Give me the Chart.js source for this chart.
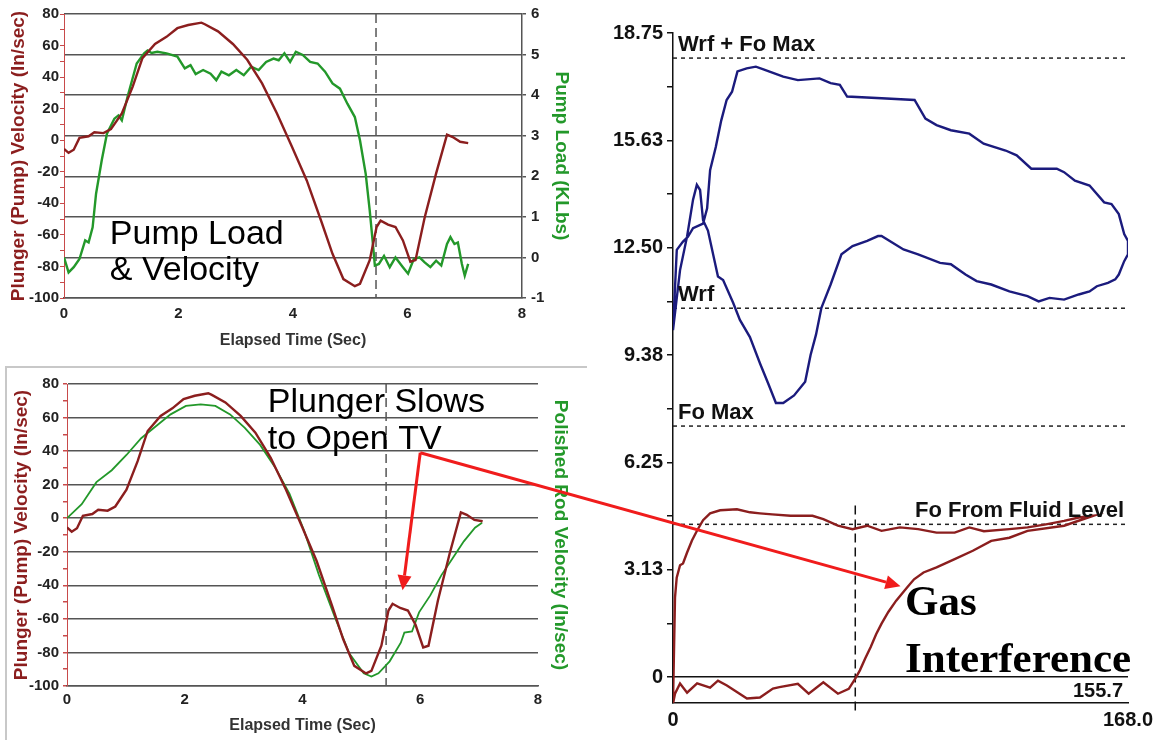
<!DOCTYPE html>
<html>
<head>
<meta charset="utf-8">
<script src="https://cdn.jsdelivr.net/npm/chart.js@4.4.1/dist/chart.umd.min.js"></script>
<style>
  html, body { margin: 0; padding: 0; background: #fff; }
  #page { position: relative; width: 1159px; height: 740px; overflow: hidden; }
  canvas { position: absolute; }
  #frame { position: absolute; left: 5px; top: 366px; width: 580px; height: 380px;
           border-top: 2px solid #c8c8c8; border-left: 2px solid #c8c8c8; }
  #notes { pointer-events: none; }
</style>
</head>
<body>
<div id="page">
  <div id="frame"></div>
  <canvas id="loadChart" width="580" height="355" style="left:0;top:0"></canvas>
  <canvas id="rodChart" width="580" height="380" style="left:0;top:360px"></canvas>
  <canvas id="cardChart" width="569" height="740" style="left:590px;top:0"></canvas>
  <canvas id="notes" width="1159" height="740" style="left:0;top:0"></canvas>
</div>
<script>
// ---- data ----
const timeTicks = [0, 2, 4, 6, 8];
const velTicks = [-100, -80, -60, -40, -20, 0, 20, 40, 60, 80];
const loadTicks = [-1, 0, 1, 2, 3, 4, 5, 6];

// [time (sec), plunger velocity (in/sec)]
const plungerVelocity = [
  [0, -5.5], [0.08, -8], [0.17, -6], [0.27, 1.5], [0.43, 2.5], [0.53, 5], [0.69, 4.5],
  [0.82, 7], [1.01, 17], [1.2, 34], [1.37, 52], [1.59, 61], [1.79, 65.5], [1.98, 71],
  [2.17, 73], [2.4, 74.5], [2.46, 73.5], [2.69, 69], [2.95, 61], [3.2, 51], [3.46, 36],
  [3.72, 17], [3.98, -4], [4.24, -25.5], [4.5, -52], [4.69, -72], [4.88, -88], [5.08, -92.5],
  [5.17, -91], [5.34, -76], [5.46, -55], [5.53, -51], [5.66, -53.5], [5.79, -55], [5.92, -63.5],
  [6.05, -77], [6.14, -76], [6.3, -49], [6.5, -21], [6.69, 3.5], [6.79, 2], [6.92, -1], [7.06, -1.8]
];

// [time (sec), pump load (KLbs)]
const pumpLoad = [
  [0, 0], [0.08, -0.37], [0.17, -0.24], [0.27, -0.04], [0.37, 0.42], [0.43, 0.37], [0.5, 0.74],
  [0.56, 1.57], [0.66, 2.4], [0.75, 3.05], [0.88, 3.42], [0.95, 3.5], [1.01, 3.38], [1.11, 3.96],
  [1.27, 4.78], [1.4, 5.03], [1.46, 5.1], [1.53, 5.04], [1.63, 5.07], [1.79, 5.03], [1.98, 4.95],
  [2.11, 4.66], [2.21, 4.74], [2.3, 4.52], [2.43, 4.62], [2.56, 4.53], [2.66, 4.37], [2.75, 4.58],
  [2.88, 4.49], [3.01, 4.62], [3.14, 4.49], [3.27, 4.7], [3.4, 4.62], [3.53, 4.82], [3.66, 4.9],
  [3.75, 4.86], [3.85, 5.03], [3.95, 4.82], [4.05, 5.07], [4.17, 4.99], [4.3, 4.82], [4.43, 4.78],
  [4.56, 4.58], [4.69, 4.29], [4.82, 4.16], [4.95, 3.79], [5.08, 3.46], [5.17, 2.89], [5.27, 2.06],
  [5.34, 1.16], [5.39, 0.42], [5.43, -0.2], [5.5, -0.16], [5.59, 0.04], [5.69, -0.24], [5.79, 0],
  [5.92, -0.24], [6.01, -0.4], [6.11, -0.04], [6.21, 0], [6.3, -0.12], [6.4, -0.24], [6.5, -0.08],
  [6.59, -0.2], [6.69, 0.33], [6.75, 0.5], [6.82, 0.33], [6.88, 0.37], [6.95, -0.16], [7.0, -0.45],
  [7.06, -0.16]
];

// [time (sec), polished rod velocity (in/sec)]
const rodVelocity = [
  [0, 0], [0.25, 8.4], [0.5, 21.5], [0.76, 28.6], [1.01, 37.7], [1.26, 47.7], [1.51, 54.8],
  [1.76, 61.9], [2.02, 66.9], [2.27, 67.9], [2.52, 66.9], [2.77, 61.9], [3.02, 53.8], [3.28, 43.7],
  [3.53, 30.6], [3.78, 14.5], [4.03, -7.7], [4.28, -33.9], [4.54, -58.1], [4.79, -80.3],
  [5.04, -92.4], [5.17, -94.4], [5.29, -92.4], [5.48, -85.3], [5.67, -74.2], [5.73, -68.2],
  [5.86, -67.5], [5.98, -56.1], [6.17, -46], [6.36, -33.9], [6.55, -23.8], [6.74, -13.8],
  [6.93, -5.7], [7.05, -2.7]
];

const markerTimeTop = 5.45;
const markerTimeBottom = 5.42;

// dynamometer cards: [position (in), load (KLbs)]
const cardTicks = [0, 3.125, 6.25, 9.375, 12.5, 15.625, 18.75];
const cardTickLabels = ['0', '3.13', '6.25', '9.38', '12.50', '15.63', '18.75'];
const posTicks = [0, 84, 168];
const posTickLabels = ['0', '', '168.0'];
const pumpStroke = '155.7';

const surfaceCard = [
  [0, 10.1], [1.4, 12.44], [3.7, 12.68], [5.5, 12.82], [7.4, 13.07], [11.1, 13.2], [12.6, 13.65],
  [13.7, 14.76], [15.8, 15.43], [17.8, 16.2], [19.8, 16.8], [21.8, 17.04], [23.8, 17.63],
  [27.2, 17.72], [30.6, 17.77], [33.9, 17.68], [40.7, 17.48], [46.1, 17.38], [54.1, 17.43],
  [58.2, 17.29], [61.6, 17.24], [64.3, 16.9], [77, 16.85], [89.2, 16.8], [93.2, 16.26],
  [97.3, 16.07], [102.6, 15.92], [109.4, 15.82], [114.7, 15.53], [122.8, 15.33], [126.9, 15.19],
  [132.3, 14.8], [141.7, 14.8], [144.4, 14.7], [148.4, 14.45], [153.8, 14.31], [159.2, 13.82],
  [161.9, 13.77], [164.6, 13.48], [166.6, 12.9], [168, 12.7], [168, 12.31], [166.6, 12.11],
  [164.6, 11.72], [163.3, 11.58], [160.6, 11.48], [156.5, 11.38], [153.8, 11.23], [149.8, 11.14],
  [144.4, 10.99], [139, 11.04], [135, 10.94], [130.9, 11.09], [124.2, 11.23], [117.5, 11.43],
  [112.1, 11.53], [108, 11.72], [102.6, 12.02], [98.6, 12.06], [90.5, 12.31], [85.1, 12.45],
  [77, 12.84], [75.7, 12.84], [71.7, 12.7], [66.3, 12.55], [62.2, 12.31], [58.2, 11.43],
  [54.8, 10.75], [52.8, 9.97], [50.8, 9.38], [48.8, 8.6], [44.7, 8.2], [40.7, 7.98], [38, 7.98],
  [35.3, 8.52], [32.1, 9.14], [28.4, 9.9], [24.7, 10.4], [22.2, 10.9], [18.5, 11.56],
  [16.6, 11.66], [12.9, 13.0], [11.1, 13.3], [10, 14.18], [8.8, 14.33], [7.4, 13.9], [5.2, 12.83],
  [2.6, 11.85], [0, 10.1]
];

const pumpCard = [
  [0, -0.77], [0.74, 2.32], [1.37, 2.9], [2.6, 3.26], [3.7, 3.31], [5.2, 3.63], [7.0, 3.98],
  [8.9, 4.27], [11.1, 4.57], [13.7, 4.77], [17.4, 4.86], [23.6, 4.89], [28.4, 4.8], [32.1, 4.77],
  [36.6, 4.74], [43.4, 4.7], [51.5, 4.7], [55.5, 4.6], [60.9, 4.41], [66.3, 4.31], [71.7, 4.41],
  [77, 4.26], [83.8, 4.36], [90.5, 4.31], [97.3, 4.21], [104, 4.21], [109.4, 4.36], [114.8, 4.25],
  [124.2, 4.31], [130.9, 4.36], [137.7, 4.45], [144.4, 4.55], [149.8, 4.65], [155.2, 4.7],
  [144.4, 4.41], [130.9, 4.26], [124.2, 4.06], [117.5, 3.97], [110.7, 3.68], [104, 3.44],
  [97.3, 3.2], [92.5, 3.05], [89, 2.85], [86.5, 2.62], [82.4, 2.23], [79.5, 1.9], [77, 1.56],
  [75, 1.25], [73, 0.88], [71, 0.55], [69, 0.2],
  [67.3, -0.04], [64.9, -0.34], [60.9, -0.48], [55.5, -0.15], [50.1, -0.48], [46.1, -0.19],
  [39.3, -0.29], [36.9, -0.33], [32.1, -0.59], [27.3, -0.62], [19.9, -0.24], [16.6, -0.1],
  [13.7, -0.3], [8.9, -0.18], [5.2, -0.45], [2.6, -0.18], [0.74, -0.48], [0, -0.77]
];

const refLevels = [18.02, 10.74, 7.31, 4.45];
const refLabels = ['Wrf + Fo Max', 'Wrf', 'Fo Max', 'Fo From Fluid Level'];
const refAlign = ['left', 'left', 'left', 'right'];
const markerPos = 67.3;

// ---- styling ----
const MAROON = '#8b1e1e';
const GREEN = '#23982a';
const NAVY = '#1b1b7d';
const GRID = '#555';
const AXIS_RED = '#c84a4a';
const ARROW = '#f01c1c';
const SANS = 'Arial, "Liberation Sans", sans-serif';

Chart.defaults.font.family = SANS;
Chart.defaults.color = '#222';

const toPoints = pairs => pairs.map(([x, y]) => ({ x, y }));
const withMinor = major => {
  const out = [];
  major.forEach((v, i) => {
    out.push(v);
    if (i < major.length - 1) out.push((v + major[i + 1]) / 2);
  });
  return out;
};
const setTicks = values => scale => { scale.ticks = values.map(value => ({ value })); };
const fixWidth = w => scale => { scale.width = w; };
const fixHeight = h => scale => { scale.height = h; };
const labelFrom = (values, labels) => v => {
  const i = values.indexOf(v);
  return i < 0 ? '' : (labels ? labels[i] : String(values[i]));
};

const dashedMarker = {
  id: 'dashedMarker',
  beforeDatasetsDraw(chart, args, opts) {
    const { ctx, chartArea, scales } = chart;
    const x = scales.x.getPixelForValue(opts.at);
    const top = opts.from !== undefined ? scales.y.getPixelForValue(opts.from) : chartArea.top;
    const bottom = opts.to !== undefined ? scales.y.getPixelForValue(opts.to) : chartArea.bottom;
    ctx.save();
    ctx.strokeStyle = opts.color || GRID;
    ctx.lineWidth = 1.5;
    ctx.setLineDash(opts.dash || [9, 5]);
    ctx.beginPath();
    ctx.moveTo(x, top);
    ctx.lineTo(x, bottom);
    ctx.stroke();
    ctx.restore();
  }
};

const baseOptions = {
  responsive: false,
  animation: false,
  events: [],
  plugins: { legend: { display: false }, tooltip: { enabled: false } },
  elements: { point: { radius: 0 }, line: { borderWidth: 2.4, tension: 0 } }
};

const tickFont = { size: 15, weight: 'bold' };
const titleFont = { size: 19, weight: 'bold' };
const xTitleFont = { size: 16, weight: 'bold' };

const timeAxis = (height, pad) => ({
  type: 'linear', min: 0, max: 8,
  afterBuildTicks: setTicks(timeTicks),
  afterFit: fixHeight(height),
  grid: { display: false, drawTicks: false },
  border: { color: GRID, width: 1.5 },
  ticks: { font: tickFont, color: '#222', padding: pad },
  title: { display: true, text: 'Elapsed Time (Sec)', font: xTitleFont, color: '#333', padding: { top: 0, bottom: 5 } }
});

// ---- chart 1: pump load & velocity ----
const loadChart = new Chart(document.getElementById('loadChart'), {
  type: 'scatter',
  data: {
    datasets: [
      { data: toPoints(plungerVelocity), showLine: true, borderColor: MAROON, yAxisID: 'y' },
      { data: toPoints(pumpLoad), showLine: true, borderColor: GREEN, yAxisID: 'y1' }
    ]
  },
  options: {
    ...baseOptions,
    layout: { padding: { top: 14, left: 0, right: 0, bottom: 0 } },
    scales: {
      x: timeAxis(57, 7),
      y: {
        type: 'linear', position: 'left', min: -100, max: 80,
        afterBuildTicks: setTicks(withMinor(velTicks)),
        afterFit: fixWidth(64),
        grid: { drawOnChartArea: false, tickLength: 4, tickColor: AXIS_RED },
        border: { color: AXIS_RED, width: 1 },
        ticks: { font: tickFont, color: '#222', padding: 1, autoSkip: false, callback: labelFrom(velTicks) },
        title: { display: true, text: 'Plunger (Pump) Velocity (In/sec)', font: titleFont, color: MAROON, padding: { top: 7, bottom: 0 } }
      },
      y1: {
        type: 'linear', position: 'right', min: -1, max: 6,
        afterBuildTicks: setTicks(loadTicks),
        afterFit: fixWidth(58),
        grid: { color: GRID, lineWidth: 1.5, tickLength: 4 },
        border: { color: GRID, width: 1.5 },
        ticks: { font: tickFont, color: '#222', padding: 5, callback: labelFrom(loadTicks) },
        title: { display: true, text: 'Pump Load (KLbs)', font: titleFont, color: GREEN, padding: { top: 7, bottom: 0 } }
      }
    },
    plugins: { ...baseOptions.plugins, dashedMarker: { at: markerTimeTop } }
  },
  plugins: [dashedMarker]
});

// ---- chart 2: plunger vs polished rod velocity ----
const rodChart = new Chart(document.getElementById('rodChart'), {
  type: 'scatter',
  data: {
    datasets: [
      { data: toPoints(plungerVelocity), showLine: true, borderColor: MAROON },
      { data: toPoints(rodVelocity), showLine: true, borderColor: GREEN, borderWidth: 1.8 }
    ]
  },
  options: {
    ...baseOptions,
    layout: { padding: { top: 24, left: 0, right: 0, bottom: 0 } },
    scales: {
      x: timeAxis(54, 5),
      y: {
        type: 'linear', position: 'left', min: -100, max: 80,
        afterBuildTicks: setTicks(withMinor(velTicks)),
        afterFit: fixWidth(67),
        grid: {
          color: c => velTicks.includes(c.tick.value) ? GRID : 'rgba(0,0,0,0)',
          lineWidth: 1.5, tickLength: 4, tickColor: AXIS_RED
        },
        border: { color: AXIS_RED, width: 1 },
        ticks: { font: tickFont, color: '#222', padding: 4, autoSkip: false, callback: labelFrom(velTicks) },
        title: { display: true, text: 'Plunger (Pump) Velocity (In/sec)', font: titleFont, color: MAROON, padding: { top: 10, bottom: 0 } }
      },
      y1: {
        type: 'linear', position: 'right', min: -100, max: 80,
        afterFit: fixWidth(42),
        grid: { display: false },
        border: { display: false },
        ticks: { display: false },
        title: { display: true, text: 'Polished Rod Velocity (In/sec)', font: titleFont, color: GREEN, padding: { top: 8, bottom: 0 } }
      }
    },
    plugins: { ...baseOptions.plugins, dashedMarker: { at: markerTimeBottom } }
  },
  plugins: [dashedMarker]
});

// ---- chart 3: surface and pump dynamometer cards ----
const refLabelPlugin = {
  id: 'refLabelPlugin',
  afterDatasetsDraw(chart) {
    const { ctx, chartArea, scales } = chart;
    ctx.save();
    ctx.fillStyle = '#111';
    ctx.font = 'bold 22px ' + SANS;
    ctx.textBaseline = 'alphabetic';
    refLevels.forEach((lvl, i) => {
      const y = scales.y.getPixelForValue(lvl) - 7;
      ctx.textAlign = refAlign[i];
      const x = refAlign[i] === 'left' ? chartArea.left + 5 : chartArea.right - 4;
      ctx.fillText(refLabels[i], x, y);
    });
    ctx.font = 'bold 20px ' + SANS;
    ctx.textAlign = 'right';
    ctx.fillText(pumpStroke, scales.x.getPixelForValue(168) - 5, scales.y.getPixelForValue(0) + 20);
    ctx.restore();
  }
};

const refDatasets = refLevels.map(lvl => ({
  data: [{ x: 0, y: lvl }, { x: 168, y: lvl }],
  showLine: true, borderColor: '#222', borderWidth: 1.5, borderDash: [4, 4]
}));

const cardChart = new Chart(document.getElementById('cardChart'), {
  type: 'scatter',
  data: {
    datasets: [
      { data: toPoints(surfaceCard), showLine: true, borderColor: NAVY, borderWidth: 2.4 },
      { data: toPoints(pumpCard), showLine: true, borderColor: MAROON, borderWidth: 2.4 },
      ...refDatasets
    ]
  },
  options: {
    ...baseOptions,
    layout: { padding: { top: 33, left: 0, right: 31, bottom: 0 } },
    scales: {
      x: {
        type: 'linear', min: 0, max: 168,
        afterBuildTicks: setTicks(posTicks),
        afterFit: fixHeight(37),
        grid: { display: false, drawTicks: false },
        border: { color: '#111', width: 1.5 },
        ticks: { font: { size: 20, weight: 'bold' }, color: '#111', padding: 5, callback: labelFrom(posTicks, posTickLabels) }
      },
      y: {
        type: 'linear', min: -0.75, max: 18.75,
        afterBuildTicks: setTicks(withMinor(cardTicks)),
        afterFit: fixWidth(83),
        grid: {
          color: c => c.tick.value === 0 ? '#111' : 'rgba(0,0,0,0)',
          lineWidth: 1.5, tickLength: 6, tickColor: '#111'
        },
        border: { color: '#111', width: 1.5 },
        ticks: { font: { size: 20, weight: 'bold' }, color: '#111', padding: 4, autoSkip: false, callback: labelFrom(cardTicks, cardTickLabels) }
      }
    },
    plugins: { ...baseOptions.plugins, dashedMarker: { at: markerPos, from: 5.0, to: -1.05, color: '#111', dash: [9, 5] } }
  },
  plugins: [dashedMarker, refLabelPlugin]
});

// ---- notes and arrows over all three charts ----
function offsetOf(chart) {
  const c = chart.canvas;
  return { left: c.offsetLeft, top: c.offsetTop };
}
function pt(chart, xv, yv, yid) {
  const o = offsetOf(chart);
  return [o.left + chart.scales.x.getPixelForValue(xv), o.top + chart.scales[yid || 'y'].getPixelForValue(yv)];
}
function arrow(ctx, from, to) {
  const [x1, y1] = from, [x2, y2] = to;
  const ang = Math.atan2(y2 - y1, x2 - x1);
  const len = 15, half = 7;
  const bx = x2 - len * Math.cos(ang), by = y2 - len * Math.sin(ang);
  ctx.beginPath();
  ctx.moveTo(x1, y1);
  ctx.lineTo(bx, by);
  ctx.stroke();
  ctx.beginPath();
  ctx.moveTo(x2, y2);
  ctx.lineTo(bx + half * Math.sin(ang), by - half * Math.cos(ang));
  ctx.lineTo(bx - half * Math.sin(ang), by + half * Math.cos(ang));
  ctx.closePath();
  ctx.fill();
}

function drawNotes() {
  const ctx = document.getElementById('notes').getContext('2d');
  ctx.fillStyle = '#000';
  ctx.textBaseline = 'alphabetic';
  ctx.textAlign = 'left';

  ctx.font = '34px ' + SANS;
  let p = pt(loadChart, 0.8, -66);
  ctx.fillText('Pump Load', p[0], p[1]);
  p = pt(loadChart, 0.8, -88.5);
  ctx.fillText('& Velocity', p[0], p[1]);

  p = pt(rodChart, 3.41, 63.3);
  ctx.fillText('Plunger Slows', p[0], p[1]);
  p = pt(rodChart, 3.41, 41.3);
  ctx.fillText('to Open TV', p[0], p[1]);

  ctx.font = 'bold 43px "Liberation Serif", "Times New Roman", serif';
  p = pt(cardChart, 85.7, 1.8);
  ctx.fillText('Gas', p[0], p[1]);
  p = pt(cardChart, 85.7, 0.14);
  ctx.fillText('Interference', p[0], p[1]);

  ctx.strokeStyle = ARROW;
  ctx.fillStyle = ARROW;
  ctx.lineWidth = 3;
  const apex = pt(rodChart, 6.0, 39);
  arrow(ctx, apex, pt(rodChart, 5.7, -43));
  arrow(ctx, apex, pt(cardChart, 84, 2.65));
}
drawNotes();
</script>
</body>
</html>
